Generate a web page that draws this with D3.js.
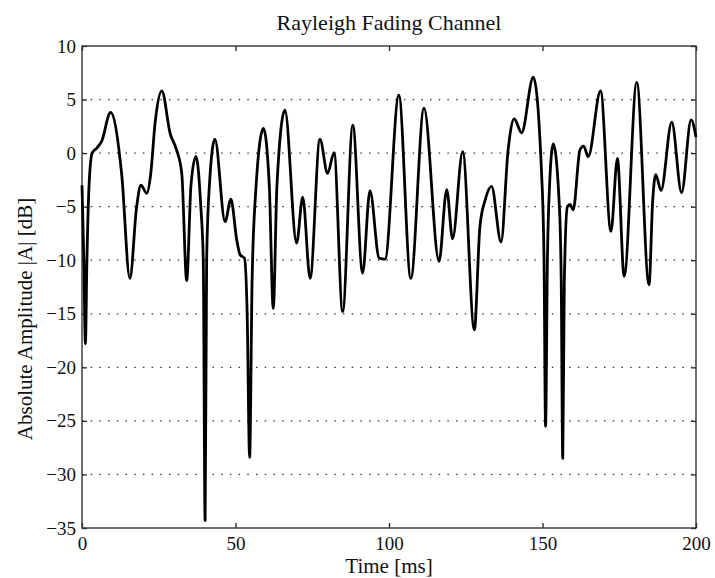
<!DOCTYPE html>
<html>
<head>
<meta charset="utf-8">
<script src="https://cdn.jsdelivr.net/npm/d3@7"></script>
<style>
  html, body { margin: 0; padding: 0; background: #fff; }
  svg { display: block; font-family: "Liberation Serif", "DejaVu Serif", serif; }
  .tick text { fill: #111; font-family: "Liberation Serif", serif; }
</style>
</head>
<body>
<svg id="chart" width="715" height="578"></svg>
<script>
// Rayleigh fading trace (time in ms, amplitude in dB).
const timeMs = [
  0, 0.6, 1.1, 1.6, 2.3, 3.3, 4.9, 6.4, 9.3, 12.9, 15.6, 17.8, 19.2, 21.1, 22.4, 23.8,
  26, 28.7, 30.8, 32.5, 34.1, 35.5, 37.1, 38.7, 39.5, 40.1, 40.6, 41.5, 43.3, 46.6,
  48.5, 50.4, 51.5, 52.9, 53.8, 54.6, 55.4, 56.5, 59.1, 61, 62.3, 63.5, 66.1, 69.9,
  71.9, 74.3, 77.5, 80, 82.1, 84.9, 88.2, 91.4, 93.8, 96.8, 98.7, 103.2, 107.1,
  111.4, 116.3, 118.8, 120.7, 124, 127.8, 129.6, 131.3, 133.4, 136.5, 138.8, 140.8,
  143.2, 147, 149.7, 150.5, 151, 151.6, 152.3, 153.5, 155.5, 156.1, 156.6, 157.1,
  158.1, 159, 160, 162.2, 163.4, 164.9, 168.9, 172.3, 174.4, 176.6, 180.7, 184.7,
  185.9, 186.9, 188.6, 192.1, 195.3, 198.4, 200
];
const amplitudeDb = [
  -3, -10, -17.8, -10, -3, 0, 0.5, 1.1, 3.8, -1.9, -11.7, -5, -3, -3.75, -1.9, 2.8,
  5.8, 1.85, 0.3, -1.9, -11.9, -3, -0.3, -5, -10, -34.3, -10, -3, 1.3, -6.4,
  -4.3, -8.1, -9.5, -9.8, -15, -28.4, -12, -4, 2.3, -3, -14.5, -3, 4.0, -8.4,
  -4.1, -11.7, 1.3, -1.9, 0.04, -14.8, 2.6, -11.2, -3.5, -9.8, -9.9, 5.4, -11.7,
  4.2, -10.1, -3.4, -8.0, 0.13, -16.5, -6.9, -4.4, -3.1, -8.3, 0.3, 3.2,
  1.9, 7.1, -1.9, -10, -25.5, -10, -3, 0.85, -5, -12, -28.5, -12,
  -5, -4.8, -5.3, 0.3, 0.66, -0.33, 5.8, -7.3, -0.5, -11.5, 6.6, -12.3,
  -4.4, -2.0, -3.5, 2.9, -3.7, 3.1, 1.5
];

const xTicks = [0, 50, 100, 150, 200];
const yTicks = [10, 5, 0, -5, -10, -15, -20, -25, -30, -35];

const chartTitle = "Rayleigh Fading Channel";
const xLabel = "Time [ms]";
const yLabel = "Absolute Amplitude |A| [dB]";

const margin = { top: 46, right: 19, bottom: 50, left: 82 };
const width = 715, height = 578;
const innerW = width - margin.left - margin.right;
const innerH = height - margin.top - margin.bottom;

const svg = d3.select("#chart");
const g = svg.append("g").attr("transform", `translate(${margin.left},${margin.top})`);

const x = d3.scaleLinear().domain([0, 200]).range([0, innerW]);
const y = d3.scaleLinear().domain([-35, 10]).range([innerH, 0]);

const fmt = (d) => (d < 0 ? "\u2212" + Math.abs(d) : String(d));

// dotted horizontal grid
g.append("g")
  .selectAll("line")
  .data(yTicks.filter((d) => d !== 10 && d !== -35))
  .join("line")
  .attr("x1", 0).attr("x2", innerW)
  .attr("y1", (d) => y(d)).attr("y2", (d) => y(d))
  .attr("stroke", "#333")
  .attr("stroke-width", 1.3)
  .attr("stroke-dasharray", "1.5,7.2");

// axes with inward ticks on all four sides; d3 puts sans-serif on axis
// groups, so force the serif face used in the picture.
const tickLen = 5;
const serifAxis = (s) => s
  .attr("font-family", "'Liberation Serif', serif")
  .attr("font-size", 19)
  .call((a) => a.select(".domain").remove());
g.append("g")
  .attr("transform", `translate(0,${innerH})`)
  .call(d3.axisBottom(x).tickValues(xTicks).tickSize(-tickLen).tickPadding(9).tickFormat(fmt))
  .call(serifAxis);
g.append("g")
  .call(d3.axisTop(x).tickValues(xTicks).tickSize(-tickLen).tickFormat(""))
  .call(serifAxis);
g.append("g")
  .call(d3.axisLeft(y).tickValues(yTicks).tickSize(-tickLen).tickPadding(6).tickFormat(fmt))
  .call(serifAxis);
g.append("g")
  .attr("transform", `translate(${innerW},0)`)
  .call(d3.axisRight(y).tickValues(yTicks).tickSize(-tickLen).tickFormat(""))
  .call(serifAxis);

g.selectAll(".tick line").attr("stroke", "#222").attr("stroke-width", 1.3);

// frame
g.append("rect")
  .attr("width", innerW).attr("height", innerH)
  .attr("fill", "none").attr("stroke", "#333").attr("stroke-width", 1.4);

// trace
const points = timeMs.map((t, i) => [t, amplitudeDb[i]]);
const line = d3.line()
  .x((d) => x(d[0]))
  .y((d) => y(d[1]))
  .curve(d3.curveMonotoneX);

g.append("path")
  .datum(points)
  .attr("d", line)
  .attr("fill", "none")
  .attr("stroke", "#000")
  .attr("stroke-width", 2.8)
  .attr("stroke-linejoin", "round");

// titles
svg.append("text")
  .attr("x", margin.left + innerW / 2).attr("y", 30)
  .attr("text-anchor", "middle").attr("font-size", 22).attr("fill", "#111")
  .text(chartTitle);
svg.append("text")
  .attr("x", 389).attr("y", 573)
  .attr("text-anchor", "middle").attr("font-size", 21).attr("fill", "#111")
  .text(xLabel);
svg.append("text")
  .attr("transform", `translate(32,319) rotate(-90)`)
  .attr("text-anchor", "middle").attr("font-size", 21).attr("fill", "#111")
  .text(yLabel);
</script>
</body>
</html>
